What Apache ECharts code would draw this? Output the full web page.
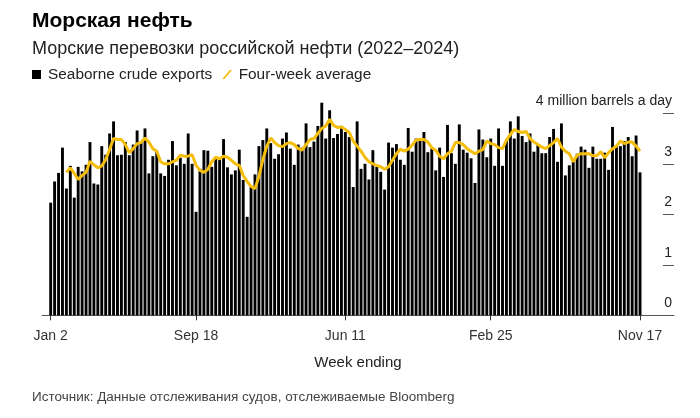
<!DOCTYPE html>
<html>
<head>
<meta charset="utf-8">
<script src="https://cdn.jsdelivr.net/npm/echarts@6/dist/echarts.min.js"></script>
<style>
html,body{margin:0;padding:0;background:#fff;}
#chart{width:700px;height:418px;}
</style>
</head>
<body>
<div id="chart"></div>
<script>
// Weekly seaborne crude exports, million barrels a day (week ending Jan 2, 2022 ... Nov 17, 2024)
const exportsData = [
2.23,2.65,2.82,3.32,2.51,2.96,2.33,2.94,2.85,2.98,
3.43,2.61,2.59,3.35,3.18,3.60,3.84,3.17,3.18,3.43,
3.17,3.38,3.66,3.43,3.70,2.81,3.15,3.24,2.81,2.76,
3.08,3.45,2.97,3.12,3.00,3.60,3.00,2.05,2.90,3.27,
3.26,2.94,3.13,3.09,3.49,2.93,2.79,2.87,3.28,2.68,
1.95,2.55,2.79,3.35,3.47,3.70,3.41,3.10,3.19,3.50,
3.62,3.30,2.98,3.38,3.32,3.80,3.33,3.44,3.75,4.21,
3.50,4.06,3.51,3.59,3.75,3.63,3.53,2.54,3.84,2.90,
3.00,2.69,3.27,2.94,2.84,2.49,3.42,3.32,3.39,3.08,
2.98,3.71,3.24,3.50,3.50,3.63,3.23,3.30,2.87,3.32,
2.74,3.77,3.21,3.00,3.78,3.28,3.22,3.11,2.62,3.68,
3.48,3.13,3.50,2.96,3.70,2.96,3.47,3.84,3.50,3.94,
3.55,3.43,3.60,3.24,3.38,3.21,3.21,3.53,3.69,3.04,
3.80,2.77,2.97,3.04,3.20,3.34,3.28,2.92,3.34,3.10,
3.10,3.22,2.88,3.73,3.37,3.35,3.45,3.53,3.15,3.56,
2.83
];
// Four-week average (starts at the 5th week)
const averageData = [
null,null,null,null,2.83,2.92,2.81,2.69,2.77,2.83,
3.05,2.98,2.92,2.96,3.08,3.29,3.50,3.48,3.48,3.38,
3.22,3.30,3.40,3.42,3.51,3.43,3.30,3.25,3.04,3.00,
3.00,3.04,3.07,3.17,3.15,3.15,3.18,2.97,2.87,2.83,
2.89,3.04,3.13,3.10,3.15,3.13,3.07,3.00,2.97,2.77,
2.65,2.55,2.51,2.75,3.08,3.35,3.51,3.42,3.36,3.34,
3.40,3.42,3.38,3.30,3.27,3.38,3.48,3.50,3.60,3.70,
3.75,3.88,3.76,3.72,3.73,3.68,3.62,3.45,3.35,3.25,
3.13,3.04,3.00,2.97,2.94,2.89,2.94,3.07,3.20,3.29,
3.25,3.29,3.37,3.47,3.48,3.48,3.43,3.32,3.27,3.15,
3.10,3.20,3.25,3.42,3.42,3.38,3.30,3.25,3.20,3.25,
3.28,3.45,3.40,3.38,3.32,3.30,3.47,3.58,3.68,3.64,
3.62,3.64,3.50,3.43,3.38,3.33,3.30,3.36,3.42,3.50,
3.33,3.25,3.20,3.04,3.17,3.20,3.20,3.20,3.16,3.16,
3.24,3.12,3.22,3.30,3.35,3.45,3.40,3.43,3.43,3.35,
3.25
];
const weekLabels = ['Jan 2','Sep 18','Jun 11','Feb 25','Nov 17'];
const weekLabelIndex = [0,37,75,112,150];
const yTickValues = [0,1,2,3,4];

const FONT = '"Liberation Sans", Arial, Helvetica, sans-serif';
const chart = echarts.init(document.getElementById('chart'), null, {renderer:'canvas'});
const option = {
  animation: false,
  backgroundColor: '#fff',
  textStyle: {fontFamily: FONT},
  title: [
    {text: 'Морская нефть', left: 32, top: 11, padding: 0,
     textStyle: {fontFamily: FONT, fontSize: 21, fontWeight: 'bold', color: '#000'}},
    {text: 'Морские перевозки российской нефти (2022–2024)', left: 32, top: 40.5, padding: 0,
     textStyle: {fontFamily: FONT, fontSize: 18, fontWeight: 'normal', color: '#222'}},
    {text: 'Источник: Данные отслеживания судов, отслеживаемые Bloomberg', left: 32, top: 390, padding: 0,
     textStyle: {fontFamily: FONT, fontSize: 13.5, fontWeight: 'normal', color: '#444'}}
  ],
  legend: {
    left: 32, top: 67, padding: 0, itemWidth: 13, itemHeight: 9, itemGap: 10,
    textStyle: {fontFamily: FONT, fontSize: 15.4, color: '#222'},
    data: [
      {name: 'Seaborne crude exports', icon: 'path://M0,0H10V10H0Z'},
      {name: 'Four-week average', icon: 'path://M0,12L10,0H13L3,12Z'}
    ]
  },
  grid: {left: 42, right: 26, top: 98.15, bottom: 102.7, containLabel: false},
  xAxis: {
    type: 'value', min: -2.21, max: 158.65,
    axisLine: {show: true, lineStyle: {color: '#555', width: 1}},
    axisTick: {show: true, customValues: weekLabelIndex, length: 5, lineStyle: {color: '#333'}},
    axisLabel: {customValues: weekLabelIndex, formatter: v => weekLabels[weekLabelIndex.indexOf(v)],
                fontSize: 14, color: '#333', margin: 14, fontFamily: FONT},
    splitLine: {show: false},
    name: 'Week ending', nameLocation: 'middle', nameGap: 40,
    nameTextStyle: {fontSize: 15, color: '#222', fontFamily: FONT}
  },
  yAxis: {
    type: 'value', position: 'right', min: 0, max: 4.3,
    axisLine: {show: false, onZero: false},
    axisTick: {show: true, inside: true, length: 11, customValues: yTickValues, lineStyle: {color: '#555'}},
    axisLabel: {inside: true, customValues: yTickValues, margin: 2, verticalAlign: 'bottom', padding: [0,0,5,0],
                fontSize: 14, color: '#222', fontFamily: FONT,
                formatter: v => v === 4 ? '4 million barrels a day' : String(v)},
    splitLine: {show: false}
  },
  series: [
    {type: 'bar', name: 'Seaborne crude exports', barWidth: 2.9,
     data: exportsData.map((v, i) => [i, v]),
     itemStyle: {color: '#000'}},
    {type: 'line', name: 'Four-week average', symbol: 'none', showSymbol: false,
     data: averageData.map((v, i) => [i, v]).filter(d => d[1] !== null),
     lineStyle: {color: '#f5be0b', width: 3}, itemStyle: {color: '#f5be0b'}}
  ]
};
chart.setOption(option);
</script>
</body>
</html>
